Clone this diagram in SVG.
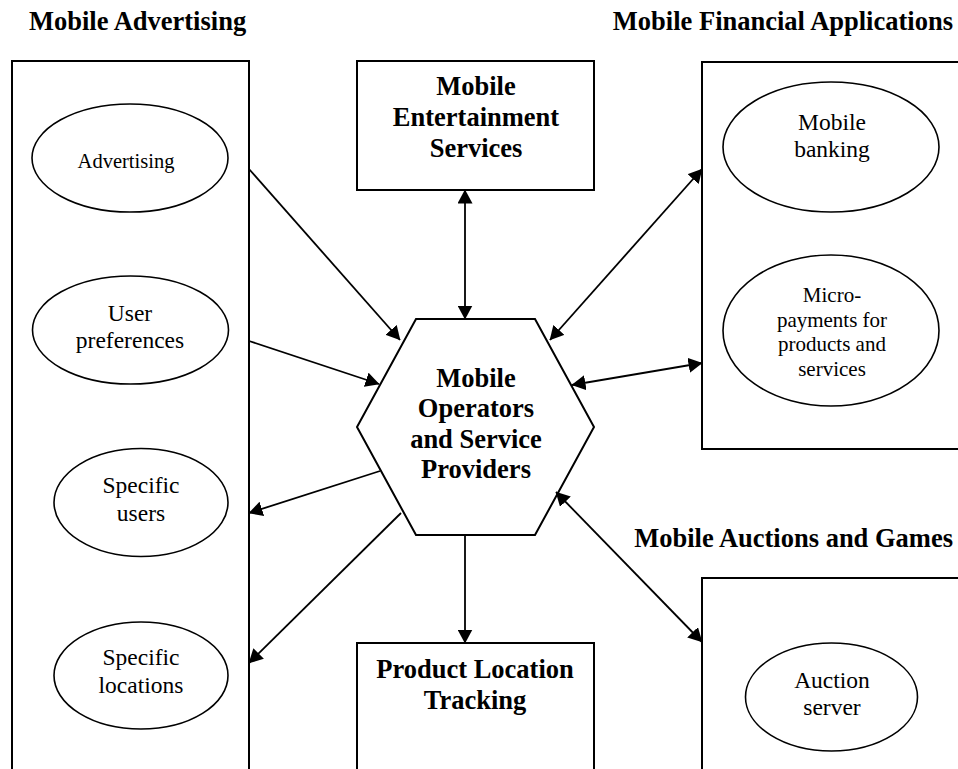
<svg xmlns="http://www.w3.org/2000/svg" width="958" height="769" viewBox="0 0 958 769">
  <style>
    .frame { fill: none; stroke: #000; stroke-width: 2; }
    .box { fill: #fff; stroke: #000; stroke-width: 2; }
    .oval { fill: #fff; stroke: #000; stroke-width: 1.6; }
    .title { font-family: "Liberation Serif", "Times New Roman", serif; font-weight: bold; font-size: 26.5px; fill: #000; }
    .bold { font-family: "Liberation Serif", "Times New Roman", serif; font-weight: bold; font-size: 26.5px; fill: #000; text-anchor: middle; }
    .label { font-family: "Liberation Serif", "Times New Roman", serif; font-size: 23.5px; fill: #000; text-anchor: middle; }
    .conn { fill: none; stroke: #000; stroke-width: 1.8; }
  </style>
  <defs>
    <marker id="arrow" viewBox="0 0 14 15" refX="13.5" refY="7.5" markerWidth="14" markerHeight="15" markerUnits="userSpaceOnUse" orient="auto-start-reverse">
      <path d="M0,0 L14,7.5 L0,15 z" fill="#000"/>
    </marker>
  </defs>

  <rect width="958" height="769" fill="#fff"/>

  <!-- group titles -->
  <text class="title" x="29" y="30">Mobile Advertising</text>
  <text class="title" x="953" y="30" text-anchor="end">Mobile Financial Applications</text>
  <text class="title" x="953" y="547" text-anchor="end">Mobile Auctions and Games</text>

  <!-- Mobile Advertising panel -->
  <g id="advertising-panel">
    <rect class="frame" x="12" y="61" width="237" height="760"/>
    <g id="advertising">
      <ellipse class="oval" cx="130" cy="158" rx="98" ry="54"/>
      <text class="label" x="126" y="168" style="font-size:20.5px">Advertising</text>
    </g>
    <g id="user-preferences">
      <ellipse class="oval" cx="130.5" cy="330" rx="98" ry="54"/>
      <text class="label" x="130" y="321">User</text>
      <text class="label" x="130" y="348">preferences</text>
    </g>
    <g id="specific-users">
      <ellipse class="oval" cx="141" cy="502.5" rx="87" ry="54"/>
      <text class="label" x="141" y="493">Specific</text>
      <text class="label" x="141" y="521">users</text>
    </g>
    <g id="specific-locations">
      <ellipse class="oval" cx="141" cy="675.5" rx="87" ry="53.5"/>
      <text class="label" x="141" y="665">Specific</text>
      <text class="label" x="141" y="693">locations</text>
    </g>
  </g>

  <!-- Mobile Financial Applications panel -->
  <g id="financial-panel">
    <rect class="frame" x="702" y="62" width="300" height="387"/>
    <g id="mobile-banking">
      <ellipse class="oval" cx="831" cy="147" rx="108" ry="65"/>
      <text class="label" x="832" y="130">Mobile</text>
      <text class="label" x="832" y="157">banking</text>
    </g>
    <g id="micro-payments">
      <ellipse class="oval" cx="831" cy="330.5" rx="108" ry="75.5"/>
      <g style="font-size:21px">
        <text class="label" x="832" y="302" style="font-size:21px">Micro-</text>
        <text class="label" x="832" y="326.5" style="font-size:21px">payments for</text>
        <text class="label" x="832" y="351" style="font-size:21px">products and</text>
        <text class="label" x="832" y="375.5" style="font-size:21px">services</text>
      </g>
    </g>
  </g>

  <!-- Mobile Auctions and Games panel -->
  <g id="auctions-panel">
    <rect class="frame" x="702" y="578" width="300" height="300"/>
    <g id="auction-server">
      <ellipse class="oval" cx="831.5" cy="697" rx="86" ry="54"/>
      <text class="label" x="832" y="688">Auction</text>
      <text class="label" x="832" y="715">server</text>
    </g>
  </g>

  <!-- central services -->
  <g id="entertainment">
    <rect class="box" x="357" y="61" width="237" height="129"/>
    <text class="bold" x="476" y="95">Mobile</text>
    <text class="bold" x="476" y="126">Entertainment</text>
    <text class="bold" x="476" y="157">Services</text>
  </g>

  <g id="operators">
    <polygon class="box" points="416,319 535,319 594,427 535,535 416,535 357,427"/>
    <text class="bold" x="476" y="387">Mobile</text>
    <text class="bold" x="476" y="417">Operators</text>
    <text class="bold" x="476" y="448">and Service</text>
    <text class="bold" x="476" y="478">Providers</text>
  </g>

  <g id="product-tracking">
    <rect class="box" x="357" y="643" width="237" height="200"/>
    <text class="bold" x="475" y="678">Product Location</text>
    <text class="bold" x="475" y="709">Tracking</text>
  </g>

  <!-- connectors -->
  <g id="connectors">
    <line class="conn" x1="249" y1="169" x2="400" y2="340" marker-end="url(#arrow)"/>
    <line class="conn" x1="249" y1="341" x2="379" y2="384" marker-end="url(#arrow)"/>
    <line class="conn" x1="380" y1="471" x2="249" y2="513" marker-end="url(#arrow)"/>
    <line class="conn" x1="401" y1="513" x2="249" y2="663" marker-end="url(#arrow)"/>
    <line class="conn" x1="465" y1="190" x2="465" y2="319" marker-start="url(#arrow)" marker-end="url(#arrow)"/>
    <line class="conn" x1="465" y1="535" x2="465" y2="643" marker-end="url(#arrow)"/>
    <line class="conn" x1="550" y1="340" x2="702" y2="169" marker-start="url(#arrow)" marker-end="url(#arrow)"/>
    <line class="conn" x1="572" y1="385" x2="702" y2="363" marker-start="url(#arrow)" marker-end="url(#arrow)"/>
    <line class="conn" x1="556" y1="492" x2="702" y2="642" marker-start="url(#arrow)" marker-end="url(#arrow)"/>
  </g>
</svg>
